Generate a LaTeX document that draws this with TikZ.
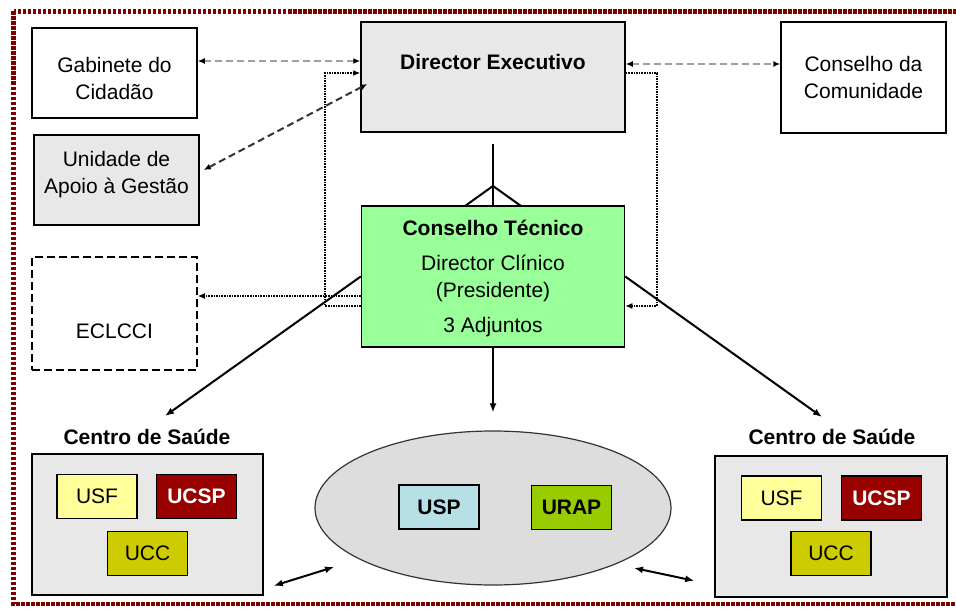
\documentclass[tikz,border=0pt]{standalone}
\usepackage{fontspec}
\setmainfont{Liberation Sans}
\usetikzlibrary{arrows.meta,positioning,shapes.geometric}

\definecolor{framered}{RGB}{128,0,0}
\definecolor{boxgray}{RGB}{232,232,232}
\definecolor{ellgray}{RGB}{221,221,221}
\definecolor{ctgreen}{RGB}{153,255,153}
\definecolor{usfyellow}{RGB}{255,255,153}
\definecolor{ucspred}{RGB}{153,0,0}
\definecolor{uccolive}{RGB}{204,204,0}
\definecolor{uspblue}{RGB}{183,224,230}
\definecolor{urapgreen}{RGB}{153,204,0}

\begin{document}
\begin{tikzpicture}[
                x=1pt, y=-1pt,
                font=\fontsize{21}{27}\selectfont,
                box/.style={draw, line width=1.5pt, align=center, minimum width=165pt, minimum height=90pt, inner sep=2pt},
                unit/.style={draw, line width=1.5pt, minimum width=80pt, minimum height=44pt, inner sep=1pt},
                title/.style={font=\fontsize{21}{27}\selectfont\bfseries},
                arrow/.style={-{Latex[length=9pt,width=7pt]}, line width=2pt},
                dblarrow/.style={{Latex[length=9pt,width=7pt]}-{Latex[length=9pt,width=7pt]}, line width=2pt},
                dotline/.style={densely dotted, line width=1.6pt, -{Latex[length=7pt,width=6pt]}},
                dashline/.style={dash pattern=on 7pt off 4pt, line width=2pt, {Latex[length=7pt,width=6pt,black]}-{Latex[length=7pt,width=6pt,black]}}
            ]

            \useasboundingbox (0,0) rectangle (956,610);
            \draw[framered, line width=4.5pt, dash pattern=on 3.5pt off 1.5pt] (13.5,11.5) rectangle (980,604);

            % top row
            \node[box] (gabinete) at (114.5,73) {};
            \node[align=center] at ([yshift=-5pt]gabinete.center) {Gabinete do\\Cidadão};
            \node[box, fill=boxgray] (unidade) at (116.5,180) {};
            \node[align=center] at ([yshift=5pt]unidade.center) {Unidade de\\Apoio à Gestão};
            \node[box, dash pattern=on 8pt off 4pt, minimum height=113pt] (eclcci) at (114.5,313.5) {};
            \node at ([yshift=-18pt]eclcci.center) {ECLCCI};

            \node[box, fill=boxgray, minimum width=264pt, minimum height=110pt] (dirx) at (493,77) {};
            \node[title] (dirxtext) at ([yshift=-41pt]dirx.north) {Director Executivo};

            \node[box, minimum height=111pt] (comunidade) at (863.5,77.5) {Conselho da\\Comunidade};

            \node[box, fill=ctgreen, minimum width=263pt, minimum height=141pt] (tecnico) at (493,276.5) {};
            \node[align=center] at ([yshift=-2pt]tecnico.center)
                {\textbf{Conselho Técnico}\\[8pt]Director Clínico\\(Presidente)\\[8pt]3 Adjuntos};

            % fork under the director
            \coordinate (forktop) at ([yshift=-11pt]dirx.south);
            \coordinate (fork) at (493,186);
            \coordinate (footl) at (465,206);
            \coordinate (footr) at (521,206);
            \draw[line width=2pt] (forktop) -- (tecnico.north);
            \draw[line width=2pt] (footl) -- (fork) -- (footr);

            % dashed and dotted links
            \draw[dashline, gray!75] (gabinete.east |- 0,61) -- (dirx.west |- 0,61);
            \draw[dashline, gray!75] (dirx.east |- 0,64) -- (comunidade.west |- 0,64);
            \draw[dashline, black!80] ([shift={(4pt,10pt)}]unidade.east) -- ([shift={(7pt,-7pt)}]dirx.west);
            \draw[dotline] (tecnico.west |- 0,306) -| (325,73) -- (dirx.west |- 0,73);
            \draw[dotline] (dirx.east |- 0,73) -| (657,306) -- (tecnico.east |- 0,306);
            \draw[dotline] (tecnico.west |- 0,296) -- (eclcci.east |- 0,296);

            % bottom row
            \node[title] (cslabel1) at (147,437) {Centro de Saúde};
            \node[draw, line width=1.5pt, fill=boxgray, minimum width=231pt, minimum height=141pt] (cs1) at (147.5,524.5) {};
            \node[unit, fill=usfyellow] (usf1) at (97,496.5) {USF};
            \node[unit, title, fill=ucspred, text=white] (ucsp1) at (196.5,496.5) {UCSP};
            \node[unit, fill=uccolive] (ucc1) at (147.5,553.5) {UCC};

            \node[draw=black!80, line width=1.2pt, fill=ellgray, ellipse, minimum width=356pt, minimum height=154pt] (ell) at (493,508) {};
            \node[unit, title, fill=uspblue] (usp) at (439,507) {USP};
            \node[unit, title, fill=urapgreen] (urap) at (571.5,507.5) {URAP};

            \node[title] (cslabel2) at (832,437) {Centro de Saúde};
            \node[draw, line width=1.5pt, fill=boxgray, minimum width=232pt, minimum height=141pt] (cs2) at (831,526.5) {};
            \node[unit, fill=usfyellow] (usf2) at (781.5,498) {USF};
            \node[unit, title, fill=ucspred, text=white] (ucsp2) at (881.5,498) {UCSP};
            \node[unit, fill=uccolive] (ucc2) at (831,553.5) {UCC};

            % solid arrows
            \coordinate (csl) at (165,416);
            \coordinate (csr) at (822,417);
            \draw[arrow] (tecnico.west) -- (csl);
            \draw[arrow] (tecnico.east) -- (csr);
            \draw[arrow, shorten >=18pt] (tecnico.south) -- (ell.north);
            \draw[dblarrow] ([shift={(10pt,10pt)}]cs1.south east) -- ([shift={(-159pt,-59pt)}]ell.center);
            \draw[dblarrow] ([shift={(141pt,-60pt)}]ell.center) -- ([shift={(-20pt,17pt)}]cs2.south west);

        \end{tikzpicture}
\end{document}
